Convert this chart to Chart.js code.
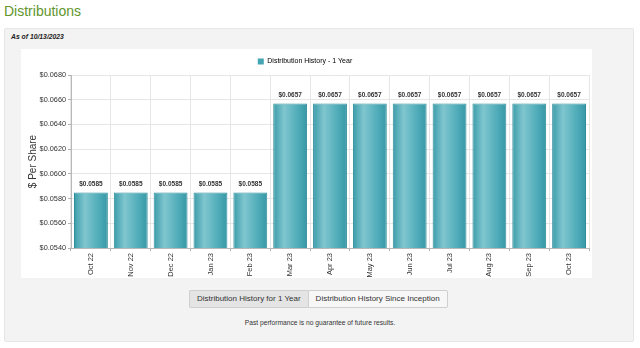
<!DOCTYPE html>
<html>
<head>
<meta charset="utf-8">
<script src="https://cdn.jsdelivr.net/npm/chart.js@4.4.0/dist/chart.umd.min.js"></script>
<style>
  html, body { margin: 0; padding: 0; background: #ffffff; width: 640px; height: 348px; overflow: hidden; font-family: "Liberation Sans", Arial, sans-serif; }
  #title { position: absolute; left: 4px; top: 3px; font-size: 14px; color: #62952b; }
  #panel { position: absolute; left: 4px; top: 28px; width: 628px; height: 312px; background: #f3f3f3; border: 1px solid #e6e6e6; border-radius: 2px; }
  #asof { position: absolute; left: 11px; top: 33px; font-size: 6.8px; font-weight: bold; font-style: italic; color: #222; }
  #chartBox { position: absolute; left: 21px; top: 49px; width: 571px; height: 229px; background: #ffffff; }
  #btns { position: absolute; left: 189px; top: 290px; height: 18px; display: flex; }
  .btn { height: 16px; line-height: 16px; font-size: 8px; color: #333; border: 1px solid #cfcfcf; padding: 0 7px; background: #f7f7f7; }
  .btn.active { background: #e4e4e4; border-right: none; border-radius: 2px 0 0 2px; }
  .btn.last { border-radius: 0 2px 2px 0; }
  #note { position: absolute; left: 0; width: 640px; top: 319px; text-align: center; font-size: 6.7px; color: #333; }
</style>
</head>
<body>
<div id="title">Distributions</div>
<div id="panel"></div>
<div id="asof">As of 10/13/2023</div>
<div id="chartBox"><canvas id="c" width="571" height="229"></canvas></div>
<div id="btns"><div class="btn active">Distribution History for 1 Year</div><div class="btn last">Distribution History Since Inception</div></div>
<div id="note">Past performance is no guarantee of future results.</div>
<script>
const categories = ["Oct 22", "Nov 22", "Dec 22", "Jan 23", "Feb 23", "Mar 23", "Apr 23", "May 23", "Jun 23", "Jul 23", "Aug 23", "Sep 23", "Oct 23"];
const distributions = [0.0585, 0.0585, 0.0585, 0.0585, 0.0585, 0.0657, 0.0657, 0.0657, 0.0657, 0.0657, 0.0657, 0.0657, 0.0657];
const yTickValues = [0.0540, 0.0560, 0.0580, 0.0600, 0.0620, 0.0640, 0.0660, 0.0680];
const seriesName = "Distribution History - 1 Year";

const BAR_PCT = 0.85;
function barGradient(ctx) {
  const chart = ctx.chart;
  const xs = chart.scales && chart.scales.x;
  if (!xs || !chart.chartArea || ctx.dataIndex === undefined) return '#4aa9b5';
  const cx = xs.getPixelForValue(ctx.dataIndex);
  const w = (xs.width / categories.length) * BAR_PCT;
  const g = chart.ctx.createLinearGradient(cx - w / 2, 0, cx + w / 2, 0);
  g.addColorStop(0, '#3a9ca9');
  g.addColorStop(0.32, '#80c6cf');
  g.addColorStop(0.7, '#52aeba');
  g.addColorStop(1, '#3898a6');
  return g;
}

const valueLabels = {
  id: 'valueLabels',
  afterDatasetsDraw(chart) {
    const c = chart.ctx;
    const meta = chart.getDatasetMeta(0);
    c.save();
    c.font = 'bold 6.5px "Liberation Sans", Arial, sans-serif';
    c.fillStyle = '#333';
    c.textAlign = 'center';
    c.textBaseline = 'middle';
    meta.data.forEach((bar, i) => {
      c.fillText('$' + distributions[i].toFixed(4), bar.x, bar.y - 8);
    });
    c.restore();
  }
};

new Chart(document.getElementById('c'), {
  type: 'bar',
  data: {
    labels: categories,
    datasets: [{
      label: seriesName,
      data: distributions,
      backgroundColor: barGradient,
      borderColor: '#2f8e9b',
      borderWidth: 1,
      borderSkipped: false,
      barPercentage: BAR_PCT,
      categoryPercentage: 1.0
    }]
  },
  options: {
    responsive: false,
    animation: false,
    devicePixelRatio: 1,
    layout: { padding: { left: 0, right: 3, top: 0, bottom: 0 } },
    plugins: {
      legend: {
        display: true,
        position: 'top',
        labels: {
          boxWidth: 6, boxHeight: 6, padding: 9,
          color: '#333',
          font: { size: 7, family: '"Liberation Sans", Arial, sans-serif' },
          generateLabels: (chart) => [{ text: seriesName, fillStyle: '#45a5b2', strokeStyle: '#45a5b2', lineWidth: 0, datasetIndex: 0 }]
        }
      },
      tooltip: { enabled: false }
    },
    scales: {
      x: {
        offset: true,
        afterFit: (s) => { s.height = 30; },
        grid: { offset: true, color: '#e6e6e6', tickLength: 3, tickColor: '#b0b0b0', drawTicks: true },
        border: { color: '#b8b8b8' },
        ticks: {
          autoSkip: false, minRotation: 90, maxRotation: 90, padding: 2,
          color: '#333',
          font: { size: 7.5, family: '"Liberation Sans", Arial, sans-serif' }
        }
      },
      y: {
        min: 0.054, max: 0.068,
        afterFit: (s) => { s.width = 50; },
        afterBuildTicks: (s) => { s.ticks = yTickValues.map(v => ({ value: v })); },
        grid: { color: '#e6e6e6', tickLength: 3, tickColor: '#b0b0b0' },
        border: { color: '#b8b8b8' },
        title: {
          display: true, text: '$ Per Share', color: '#333',
          font: { size: 10, family: '"Liberation Sans", Arial, sans-serif' },
          padding: { top: 6, bottom: 0 }
        },
        ticks: {
          padding: 2, color: '#333',
          font: { size: 7.3, family: '"Liberation Sans", Arial, sans-serif' },
          callback: (v) => '$' + Number(v).toFixed(4)
        }
      }
    }
  },
  plugins: [valueLabels]
});
</script>
</body>
</html>
